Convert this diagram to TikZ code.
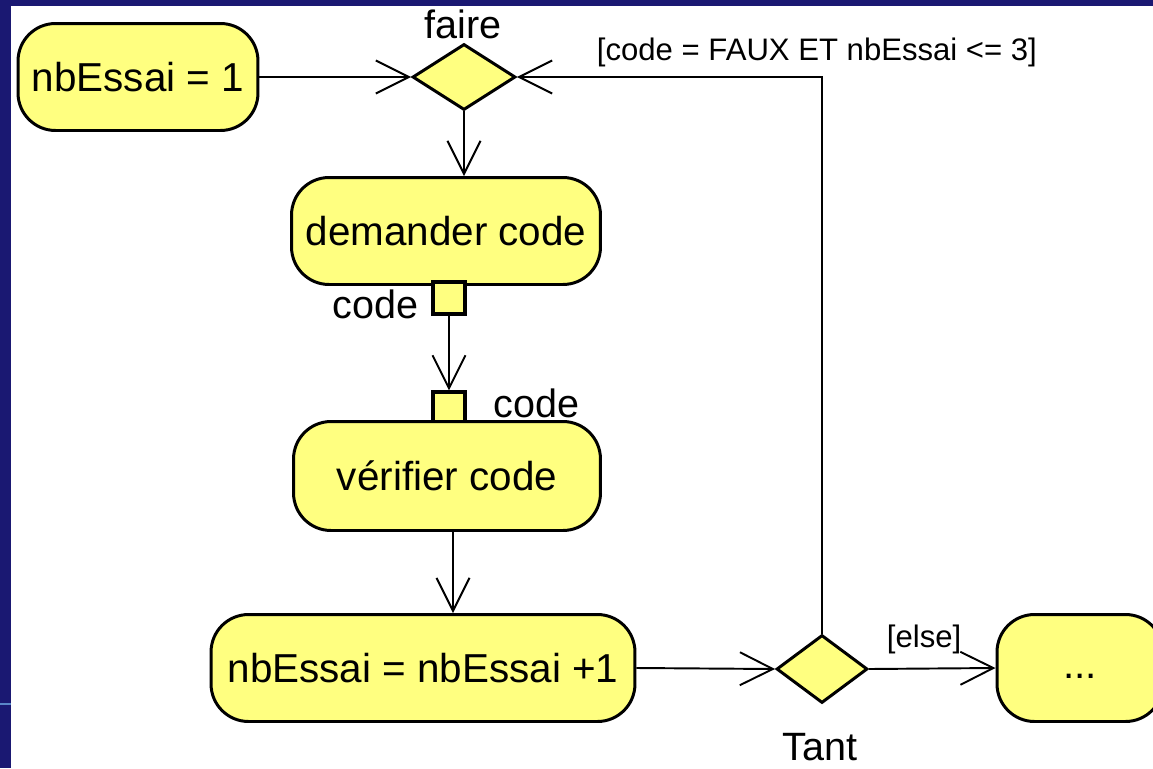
\documentclass[tikz,border=0pt]{standalone}
\usepackage{fontspec}
\setmainfont{Liberation Sans}
\usetikzlibrary{arrows.meta, shapes.geometric}
\definecolor{cyellow}{HTML}{FFFF80}
\definecolor{cnavy}{HTML}{1A1872}
\definecolor{cline}{HTML}{5A86C8}
\tikzset{
  every picture/.style={line width=1.1pt},
  action/.style={draw, fill=cyellow, rounded corners=0.75cm, line width=1.7pt, align=center, inner sep=0pt, minimum height=2.14cm, font=\fontsize{23}{27}\selectfont},
  decision/.style={draw, fill=cyellow, diamond, line width=1.7pt, inner sep=0pt},
  pinbox/.style={draw, fill=cyellow, line width=1.8pt, minimum size=0.64cm, inner sep=0pt},
  arrow/.style={-{Straight Barb[length=0.66cm, width=0.66cm]}, line width=1.1pt},
  lbl/.style={font=\fontsize{22.5}{26}\selectfont, inner sep=0pt},
  guard/.style={font=\fontsize{17.7}{20}\selectfont, inner sep=0pt},
}

\begin{document}
\begin{tikzpicture}[x=0.02cm, y=-0.02cm]
  \useasboundingbox (0,0) rectangle (1153,768);
  % slide frame
  \fill[cnavy] (0,0) rectangle (1153,768);
  \fill[white] (11,6) rectangle (1153,768);
  \draw[cline, line width=0.6pt] (0,704) -- (11,704);

  % start of the loop
  \node[action, minimum width=4.8cm] (init) at (138,77) {nbEssai = 1};
  \node[decision, minimum width=2.06cm, minimum height=1.32cm] (faire) at (464,77) {};
  \node[lbl, anchor=base] (fairelbl) at (463,38) {faire};
  \draw[arrow] (init.east) -- (faire.west);

  % ask and check the code
  \node[action, minimum width=6.18cm] (dem) at (446,231) {demander code};
  \node[pinbox] (pout) at (449,298) {};
  \node[lbl, anchor=base east] (poutlbl) at (419,318) {code};
  \node[pinbox] (pin) at (449,408) {};
  \node[lbl, anchor=base west] (pinlbl) at (493,417) {code};
  \node[action, minimum width=6.14cm, minimum height=2.18cm] (verif) at (447,476) {vérifier code};
  \draw[arrow] (faire.south) -- (faire.south |- dem.north);
  \draw[arrow] (pout.south) -- (pin.north);

  % count and test
  \node[action, minimum width=8.48cm] (plus) at (423,668) {nbEssai = nbEssai +1};
  \node[decision, minimum width=1.82cm, minimum height=1.36cm] (tant) at (822,669) {};
  \node[lbl, anchor=base] (tantlbl) at (820,760) {Tant};
  \node[action, minimum width=3.32cm, text height=0.3cm, text depth=0.3cm] (dots) at (1080,668) {\raisebox{-0.2cm}{...}};
  \draw[arrow] ([xshift=6*0.02cm]verif.south) -- ([xshift=6*0.02cm]verif.south |- plus.north);
  \draw[arrow] (plus.east) -- (tant.west);
  \draw[arrow] (tant.east) -- (dots.west);
  \node[guard, anchor=base west] (elselbl) at (886,647) {[else]};
  \draw[arrow] (tant.north) |- (faire.east);
  \node[guard, anchor=base west] (looplbl) at (596,60) {[code = FAUX ET nbEssai <= 3]};
\end{tikzpicture}
\end{document}
